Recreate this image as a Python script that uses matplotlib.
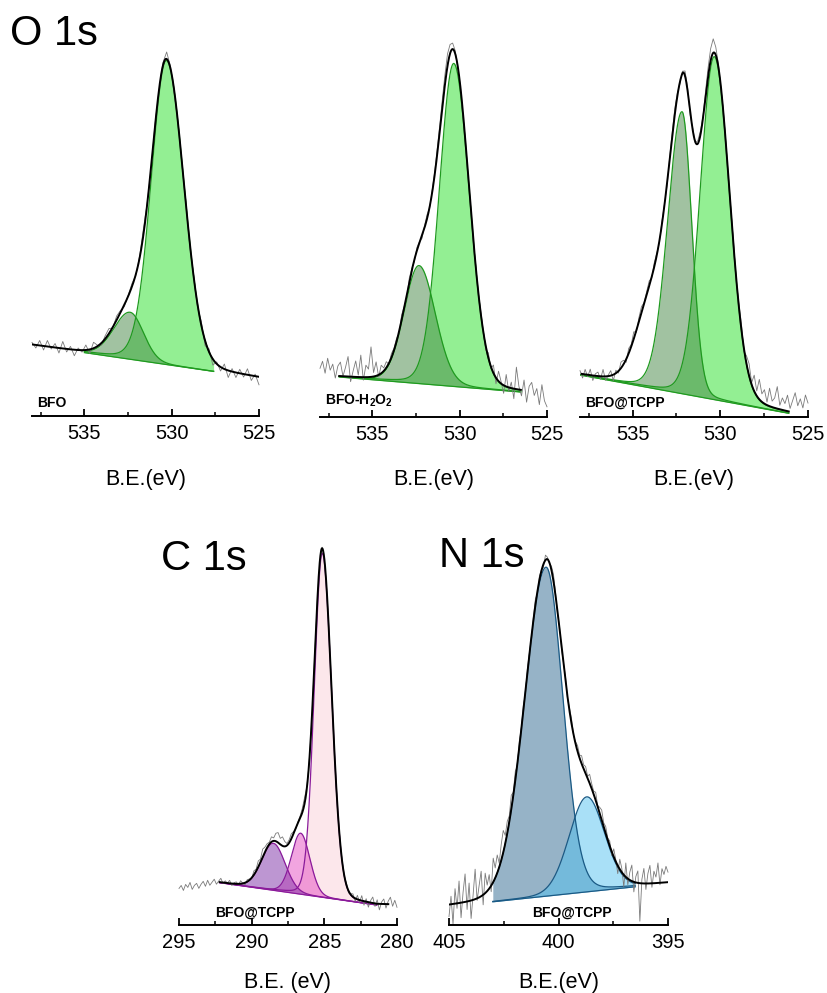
import numpy as np
import matplotlib
matplotlib.use("Agg")
import matplotlib.pyplot as plt
from matplotlib.ticker import MultipleLocator

plt.rcParams["font.family"] = ["Liberation Sans", "DejaVu Sans"]
plt.rcParams["mathtext.fontset"] = "custom"
plt.rcParams["mathtext.rm"] = "Liberation Sans"
plt.rcParams["mathtext.bf"] = "Liberation Sans:bold"

W, H = 827, 993
ETA = 0.08  # Lorentzian fraction of the pseudo-Voigt line shape

# peaks: (centre eV, height, FWHM on high-BE side, FWHM on low-BE side)

# ---- O 1s, BFO ----
bfo_bg = [(538.0, 71.0), (525.0, 38.0)]
bfo_peaks = [(530.30, 304.0, 2.05, 2.35), (532.38, 47.0, 2.2, 1.8)]
bfo_res = [2, -3, 5, -4, 6, -2, 4, -5, 7, -3, 3, -6, 2, -2, 5, -4, 6, 1, -2, 3,
           5, -1, 4, 2, -2, 1, 3, -1, 2, 6, 1, -2, 2, -1, 3, 7, 2, -3, 1, -2,
           3, -4, 2, -3, 4, -5, 3, -6, 2, -4, 5, -7, 3, -5, 4, -3, 6, -5, 2, -8]

# ---- O 1s, BFO-H2O2 ----
h2o2_bg = [(536.9, 40.0), (526.5, 25.0)]
h2o2_peaks = [(530.34, 323.0, 1.95, 2.1), (532.33, 118.0, 2.0, 2.2)]
h2o2_res = [8, 15, 3, 18, 6, 12, -2, 10, 14, 0, 9, 20, -5, 6, 16, 2, 22, -3, 12, 8,
            30, 4, 14, -2, 8, 3, 6, -1, 4, 2, 3, -2, 5, 1, -3, 4, 2, -2, 3, 1,
            -3, 2, 4, -1, 2, 3, 5, 6, 8, 10, 12, 9, 6, 3, -2, 1, -3, 2, -2, 1,
            -3, 2, -1, 3, 1, -4, 5, -2, 8, -6, 10, 2, -8, 12, -4, 6, -10, 22, 3, -6,
            10, -12, 4, 8, -5, 2, -14, 6, -10, -16]

# ---- O 1s, BFO@TCPP ----
tcpp_bg = [(538.0, 42.0), (526.1, 3.7)]
tcpp_peaks = [(530.34, 343.0, 1.9, 2.05), (532.18, 282.0, 1.94, 1.31)]
tcpp_shoulder = [(534.0, 76.0, 2.0, 2.0)]
tcpp_res = [3, -4, 5, -2, 6, -5, 2, 4, -3, 7, -4, 1, 5, -6, 3, -2, 6, 4, -3, 5,
            2, 7, -2, 4, 6, 1, 3, 5, -1, 4, 2, -2, 3, 1, -3, 2, 4, 6, 3, -2,
            2, 5, 3, -4, 2, -1, 3, 4, 2, 6, 9, 12, 14, 8, 3, -2, 2, 1, -3, 2,
            4, -2, 3, 6, -3, 8, 12, 2, 16, 5, 20, 8, 14, 3, 18, 6, 10, 22, 4, 12,
            7, 16, 3, 11, 19, 6, 13, 4, 17, 9]

# ---- C 1s, BFO@TCPP ----
c1s_bg = [(292.2, 42.3), (281.4, 20.0)]
c1s_peaks = [(285.14, 344.0, 1.3, 1.5), (286.63, 61.0, 1.5, 1.5), (288.50, 47.0, 1.9, 1.9)]
c1s_res = [-6, -3, -8, -2, -5, 0, -7, -3, -1, -6, -2, 1, -4, 2, -3, 0, 3, -2, 1, 4,
           -1, 2, 0, 3, -2, 1, 2, -1, 3, 0, -2, 2, 1, -1, 4, 2, 6, 3, 8, 5,
           4, 2, 5, 3, 8, 10, 6, 9, 5, 2, 3, 5, 2, -1, 1, 2, 4, 6, 2, 0,
           -1, 1, 2, 0, -2, 1, 0, -1, 2, 0, -1, 1, -2, 1, 0, -1, 2, -2, 1, 3,
           -3, 4, -2, 5, -4, 3, -5, 2, 6, -3, 4, -6, 2, 5, -4, 3, 7, -2, 4, -3]

# ---- N 1s, BFO@TCPP ----
n1s_bg = [(405.0, 18.6), (395.0, 41.7)]
n1s_peaks = [(400.57, 329.0, 2.3, 1.8), (398.71, 95.0, 1.9, 1.9)]
n1s_res = [-12, 8, -20, 15, -5, 22, -15, 10, 28, -8, 18, -18, 5, 30, -2, 12, 25, -10, 20, 6,
           14, -6, 24, 10, 18, 4, 16, 22, 8, 12, 6, 14, 3, 9, -2, 6, 1, 5, -3, 4,
           2, -4, 3, 6, -2, 4, 1, -3, 5, 2, -1, 4, 7, 3, -2, 2, -3, 1, 4, -2,
           3, 5, -1, 2, 6, 3, 8, 4, 7, 2, 9, 5, 3, 8, 1, 6, 10, 4, 7, 2,
           5, -4, 8, 2, -8, 10, 4, -12, 14, -6, 8, 16, -10, 6, 12, -38, 4, 15, -6, 10,
           18, -4, 12, 6, 20, -2, 14, 8, 16, 10]

green_fills = [(0.16, 0.88, 0.16), (0.27, 0.53, 0.27)]
pink_fills = [(0.98, 0.82, 0.85), (0.90, 0.30, 0.76), (0.49, 0.18, 0.65)]
blue_fills = [(0.18, 0.41, 0.57), (0.33, 0.76, 0.94)]


def peak(E, c, h, w_hi, w_lo):
    w = np.where(E >= c, w_hi, w_lo)
    x = (E - c) / w
    return h * ((1 - ETA) * np.exp(-4 * np.log(2) * x ** 2) + ETA / (1 + 4 * x ** 2))


def background(E, pts):
    (e1, y1), (e2, y2) = sorted(pts)
    return np.interp(E, [e1, e2], [y1, y2])


def make_axes(fig, x0, x1, ytop, ybot):
    ax = fig.add_axes([x0 / W, 1 - ybot / H, (x1 - x0) / W, (ybot - ytop) / H])
    ax.set_ylim(0, ybot - ytop)
    for side in ("left", "right", "top"):
        ax.spines[side].set_visible(False)
    ax.spines["bottom"].set_linewidth(1.4)
    ax.set_yticks([])
    ax.xaxis.set_major_locator(MultipleLocator(5))
    ax.xaxis.set_minor_locator(MultipleLocator(2.5))
    ax.tick_params(axis="x", which="major", direction="in", length=5, width=1.3,
                   labelsize=14.5, pad=6)
    ax.tick_params(axis="x", which="minor", direction="in", length=3, width=1.1)
    ax.patch.set_alpha(0)
    return ax


def draw_spectrum(ax, xlim, bg_pts, peaks, fills, edge, comp_range, fit_range,
                  residuals, hidden=()):
    ax.set_xlim(*xlim)
    ec = np.linspace(comp_range[0], comp_range[1], 500)
    bc = background(ec, bg_pts)
    for (c, h, wh, wl), col in zip(peaks, fills):
        y = bc + peak(ec, c, h, wh, wl)
        ax.fill_between(ec, bc, y, color=col, alpha=0.5, lw=0)
        ax.plot(ec, y, color=edge, lw=0.9)
    ax.plot(ec, bc, color=edge, lw=0.9)

    # measured spectrum = fitted model + residual
    er = np.linspace(xlim[0], xlim[1], len(residuals))
    raw = background(er, bg_pts) + np.array(residuals, dtype=float)
    for p in list(peaks) + list(hidden):
        raw += peak(er, *p)
    ax.plot(er, raw, color="#7a7a7a", lw=0.6, clip_on=False)

    ef = np.linspace(fit_range[0], fit_range[1], 500)
    env = background(ef, bg_pts)
    for p in list(peaks) + list(hidden):
        env += peak(ef, *p)
    ax.plot(ef, env, color="black", lw=1.4)


fig = plt.figure(figsize=(W / 100, H / 100), dpi=100)

green_edge = "#1f9a1f"
ax1 = make_axes(fig, 32, 259, 30, 416)
draw_spectrum(ax1, (538, 525), bfo_bg, bfo_peaks, green_fills, green_edge,
              (535.0, 527.6), (538.0, 525.0), bfo_res)
ax2 = make_axes(fig, 320, 547, 30, 417)
draw_spectrum(ax2, (538, 525), h2o2_bg, h2o2_peaks, green_fills, green_edge,
              (536.9, 526.5), (536.9, 526.5), h2o2_res)
ax3 = make_axes(fig, 580, 808, 30, 417)
draw_spectrum(ax3, (538, 525), tcpp_bg, tcpp_peaks, green_fills, green_edge,
              (538.0, 526.1), (537.9, 526.1), tcpp_res, hidden=tcpp_shoulder)
ax4 = make_axes(fig, 179, 397, 540, 925)
draw_spectrum(ax4, (295, 280), c1s_bg, c1s_peaks, pink_fills, "#8a1a9a",
              (292.2, 281.4), (292.2, 280.6), c1s_res)
ax5 = make_axes(fig, 449, 668, 540, 925)
draw_spectrum(ax5, (405, 395), n1s_bg, n1s_peaks, blue_fills, "#1a5a85",
              (403.0, 396.5), (405.0, 395.0), n1s_res)


def ftext(x, y, s, **kw):
    fig.text(x / W, 1 - y / H, s, **kw)


ftext(10, 45, "O 1s", fontsize=30, va="baseline")
ftext(161, 570, "C 1s", fontsize=30, va="baseline")
ftext(439, 567, "N 1s", fontsize=30, va="baseline")

ftext(37, 407, "BFO", fontsize=10, fontweight="bold", va="baseline")
ftext(325, 405, r"BFO-H$_\mathbf{2}$O$_\mathbf{2}$", fontsize=10, fontweight="bold", va="baseline")
ftext(585, 407, "BFO@TCPP", fontsize=10, fontweight="bold", va="baseline")
ftext(215, 917, "BFO@TCPP", fontsize=10, fontweight="bold", va="baseline")
ftext(532, 917, "BFO@TCPP", fontsize=10, fontweight="bold", va="baseline")

ftext((32 + 259) / 2, 485, "B.E.(eV)", fontsize=15.5, ha="center", va="baseline")
ftext((320 + 547) / 2, 485, "B.E.(eV)", fontsize=15.5, ha="center", va="baseline")
ftext((580 + 808) / 2, 485, "B.E.(eV)", fontsize=15.5, ha="center", va="baseline")
ftext((179 + 397) / 2, 988, "B.E. (eV)", fontsize=15.5, ha="center", va="baseline")
ftext((449 + 668) / 2, 988, "B.E.(eV)", fontsize=15.5, ha="center", va="baseline")

fig.savefig("out.png", dpi=100)
